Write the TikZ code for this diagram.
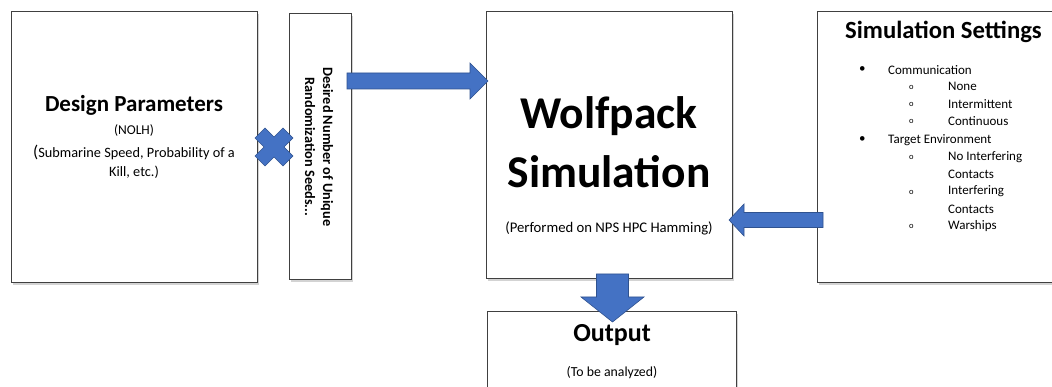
\documentclass[tikz,border=0pt]{standalone}
\usepackage{fontspec}
\setmainfont{Carlito}
\usetikzlibrary{shadows,calc}
\definecolor{arrowblue}{HTML}{4472C4}
\definecolor{arrowedge}{HTML}{2F528F}
\definecolor{boxedge}{HTML}{404040}
\tikzset{
  box/.style={draw=boxedge, line width=0.8pt, fill=white, inner sep=0pt,
    anchor=north west,
    drop shadow={shadow xshift=1.5pt, shadow yshift=-3pt, opacity=0.35}},
  blockshape/.style={fill=arrowblue, draw=arrowedge, line width=0.6pt, line join=miter},
  txt/.style={inner sep=0pt, align=center},
  item/.style={inner sep=0pt, anchor=west, font=\fontsize{13}{15}\selectfont},
  circ/.style={inner sep=0pt, anchor=west, font=\fontsize{8.5}{10}\selectfont},
}
\begin{document}
\begin{tikzpicture}[x=1pt,y=-1pt]
\useasboundingbox (0,0) rectangle (1052,387);
% boxes
\node[box, minimum width=246pt, minimum height=271pt] (design) at (11,11) {};
\node[box, minimum width=62pt, minimum height=266pt] (seeds) at (289,13) {};
\node[box, minimum width=246pt, minimum height=267pt] (wolf) at (486,11) {};
\node[box, minimum width=250pt, minimum height=271pt] (settings) at (817,11) {};
\node[box, minimum width=249pt, minimum height=100pt] (output) at (487,311) {};

% design text
\node[txt, font=\fontsize{23}{27}\selectfont\bfseries] (dtitle) at (134,105) {Design Parameters};
\node[txt, font=\fontsize{13.5}{15}\selectfont] (nolh) at (134,131) {(NOLH)};
\node[txt, font=\fontsize{14.3}{19.5}\selectfont] (dsub) at (134,162) {{\fontsize{17}{19.5}\selectfont(}Submarine Speed, Probability of a\\Kill, etc.)};

% seeds text
\node[txt, rotate=-90, font=\fontsize{14.3}{18}\selectfont\bfseries] (stext) at (319,147) {Desired Number of Unique\\Randomization Seeds...};

% wolfpack text
\node[txt, font=\fontsize{45.5}{59}\selectfont\bfseries] (wtitle) at (609,142) {Wolfpack\\Simulation};
\node[txt, font=\fontsize{14.7}{17}\selectfont] (perf) at (609,228) {(Performed on NPS HPC Hamming)};

% settings text
\node[txt, font=\fontsize{24.7}{28}\selectfont\bfseries] (stitle) at (943.5,32) {Simulation Settings};
\node[item] (b1) at (859,70) {•};
\node[item] (i1) at (888,70) {Communication};
\node[circ] (c1) at (909,87) {o};
\node[item] (i11) at (948,86) {None};
\node[circ] (c2) at (909,104) {o};
\node[item] (i12) at (948,104) {Intermittent};
\node[circ] (c3) at (909,121) {o};
\node[item] (i13) at (948,121) {Continuous};
\node[item] (b2) at (859,140) {•};
\node[item] (i2) at (888,140) {Target Environment};
\node[circ] (c4) at (909,157) {o};
\node[item] (i21) at (948,157) {No Interfering};
\node[item] (i21b) at (948,174) {Contacts};
\node[circ] (c5) at (909,192) {o};
\node[item] (i22) at (948,191) {Interfering};
\node[item] (i22b) at (948,209) {Contacts};
\node[circ] (c6) at (909,226) {o};
\node[item] (i23) at (948,226) {Warships};

% output text
\node[txt, font=\fontsize{26}{30}\selectfont\bfseries] (otitle) at (612,335) {Output};
\node[txt, font=\fontsize{13.8}{16}\selectfont] (osub) at (612,373) {(To be analyzed)};

% cross between design and seeds
\coordinate (x) at (274,147);
\filldraw[blockshape, shift={(x)}]
  (0,-10) -- (9,-19) -- (19,-9) -- (10,0) -- (19,9) -- (9,19) -- (0,10)
  -- (-9,19) -- (-19,9) -- (-10,0) -- (-19,-9) -- (-9,-19) -- cycle;

% block arrow: seeds -> wolfpack
\coordinate (a1tail) at (347,81);
\coordinate (a1tip) at (488,81);
\filldraw[blockshape] ($(a1tail)+(0,-8)$) -- ($(a1tip)+(-18,-8)$) -- ($(a1tip)+(-18,-18)$)
  -- (a1tip) -- ($(a1tip)+(-18,18)$) -- ($(a1tip)+(-18,8)$) -- ($(a1tail)+(0,8)$) -- cycle;

% block arrow: settings -> wolfpack
\coordinate (a2tail) at (823,220);
\coordinate (a2tip) at (729,220);
\filldraw[blockshape] ($(a2tail)+(0,-7.5)$) -- ($(a2tip)+(15,-7.5)$) -- ($(a2tip)+(15,-16)$)
  -- (a2tip) -- ($(a2tip)+(15,16)$) -- ($(a2tip)+(15,7.5)$) -- ($(a2tail)+(0,7.5)$) -- cycle;

% block arrow: wolfpack -> output
\coordinate (a3tail) at (612.5,274);
\coordinate (a3tip) at (612.5,322);
\filldraw[blockshape] ($(a3tail)+(-16,0)$) -- ($(a3tip)+(-16,-25)$) -- ($(a3tip)+(-31.5,-25)$)
  -- (a3tip) -- ($(a3tip)+(31.5,-25)$) -- ($(a3tip)+(16,-25)$) -- ($(a3tail)+(16,0)$) -- cycle;
\end{tikzpicture}
\end{document}
